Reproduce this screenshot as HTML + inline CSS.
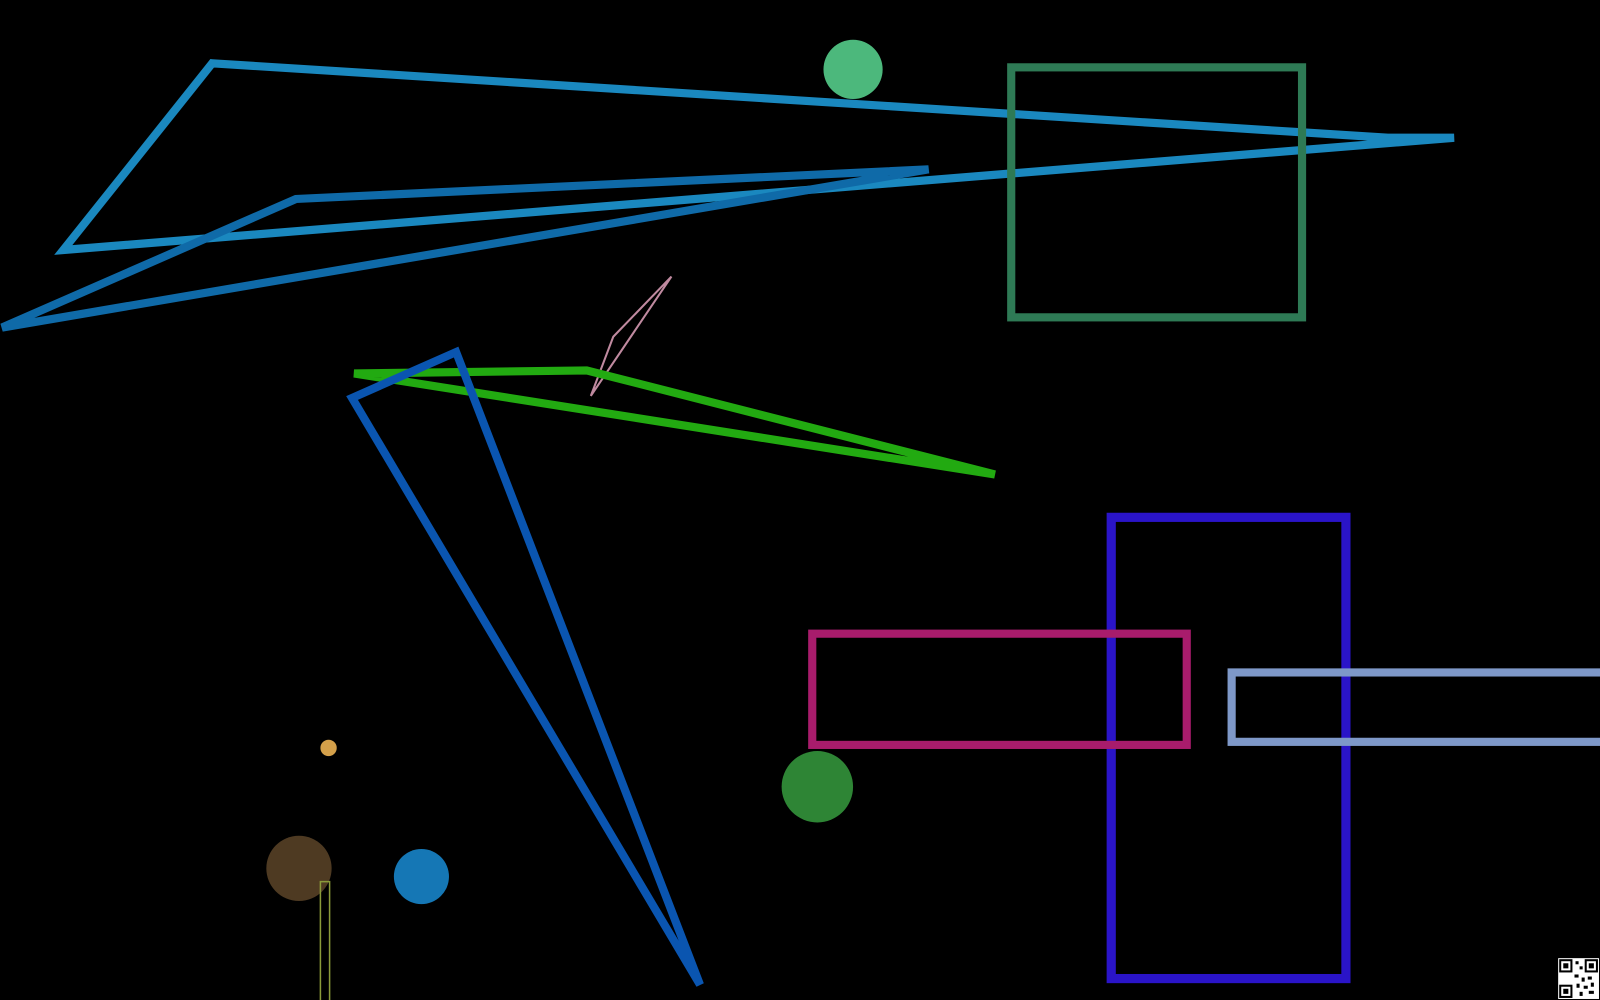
<!DOCTYPE html>
<html><head><meta charset="utf-8"><style>html,body{margin:0;padding:0;background:#000;}svg{display:block}</style></head>
<body>
<svg width="1600" height="1000" viewBox="0 0 1568 980" preserveAspectRatio="none" xmlns="http://www.w3.org/2000/svg">
<rect width="1568" height="980" fill="#000"/>
<polygon points="208,62 1360,135 1425,135 62,245" fill="none" stroke="#1a88bf" stroke-width="8"/>
<polygon points="910,166 290,195 2,321" fill="none" stroke="#0f6aa8" stroke-width="8"/>
<circle cx="836" cy="68" r="29" fill="#4cb87c"/>
<rect x="991" y="66" width="285" height="245" fill="none" stroke="#2e7a55" stroke-width="8"/>
<polygon points="658,271 601,330 579,388" fill="none" stroke="#c08aa0" stroke-width="2"/>
<polygon points="347,366 575,363 975,465" fill="none" stroke="#22aa11" stroke-width="8"/>
<polygon points="447,345 686,965 345,390" fill="none" stroke="#0a55b0" stroke-width="8"/>
<rect x="1089" y="507" width="230" height="452" fill="none" stroke="#2a14c8" stroke-width="9"/>
<rect x="796" y="621" width="367" height="109" fill="none" stroke="#a81c6c" stroke-width="8"/>
<rect x="1207" y="659" width="380" height="68" fill="none" stroke="#7e98c8" stroke-width="8"/>
<circle cx="801" cy="771" r="35" fill="#2e8535"/>
<circle cx="322" cy="733" r="8" fill="#d4a04a"/>
<circle cx="293" cy="851" r="32" fill="#4e3a22"/>
<circle cx="413" cy="859" r="27" fill="#1577b5"/>
<rect x="314" y="864" width="9" height="120" fill="none" stroke="#8a9a3a" stroke-width="1.5"/>
<g>
<rect x="1527" y="939" width="40" height="40" fill="#fff"/>
<rect x="1529" y="941" width="11" height="11" fill="none" stroke="#000" stroke-width="2"/>
<rect x="1554" y="941" width="11" height="11" fill="none" stroke="#000" stroke-width="2"/>
<rect x="1529" y="966" width="11" height="11" fill="none" stroke="#000" stroke-width="2"/>
<rect x="1532" y="944" width="5" height="5" fill="#000"/>
<rect x="1557" y="944" width="5" height="5" fill="#000"/>
<rect x="1532" y="969" width="5" height="5" fill="#000"/>
<rect x="1544" y="942" width="3" height="3" fill="#000"/>
<rect x="1548" y="947" width="3" height="3" fill="#000"/>
<rect x="1543" y="955" width="4" height="3" fill="#000"/>
<rect x="1550" y="958" width="3" height="4" fill="#000"/>
<rect x="1556" y="957" width="4" height="3" fill="#000"/>
<rect x="1545" y="964" width="3" height="4" fill="#000"/>
<rect x="1552" y="966" width="4" height="3" fill="#000"/>
<rect x="1559" y="963" width="3" height="4" fill="#000"/>
<rect x="1548" y="972" width="3" height="4" fill="#000"/>
<rect x="1557" y="971" width="5" height="3" fill="#000"/>
</g>
</svg>
</body></html>
